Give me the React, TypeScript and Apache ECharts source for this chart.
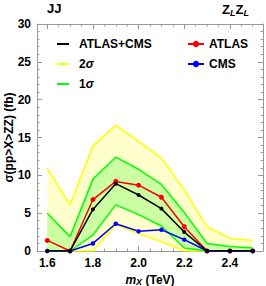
import React, { useEffect, useRef } from "react";
import * as echarts from "echarts";

const massPoints = [1.6, 1.7, 1.8, 1.9, 2.0, 2.1, 2.2, 2.3, 2.4, 2.5];
const combined = [0, 0, 5.5, 8.9, 7.4, 5.6, 2.5, 0, 0, 0];
const atlas = [1.4, 0, 6.8, 9.2, 8.7, 7.1, 3.2, 0, 0, 0];
const cms = [0, 0, 1.0, 3.6, 2.6, 2.8, 1.5, 0, 0, 0];
const sigma2Upper = [10.9, 6.1, 13.9, 16.6, 14.5, 12.3, 8.1, 3.2, 1.7, 1.4];
const sigma2Lower = [0, 0, 0, 3.5, 2.3, 1.2, 0, 0, 0, 0];
const sigma1Upper = [5.0, 1.9, 9.5, 12.4, 10.8, 8.8, 5.1, 1.0, 0.6, 0.4];
const sigma1Lower = [0, 0, 2.1, 6.1, 4.8, 3.3, 0.4, 0, 0, 0];

const FONT = "Liberation Sans, Arial, sans-serif";
const FRAME = "#999999";

const pairs = (ys: number[]) => massPoints.map((x, i) => [x, ys[i]]);

const band = (upper: number[], lower: number[], fill: string, z: number) => ({
  type: "custom",
  silent: true,
  z,
  xAxisIndex: 0,
  yAxisIndex: 0,
  data: [[massPoints[0], 0]],
  renderItem: (_p: any, api: any) => {
    const top = massPoints.map((x, i) => api.coord([x, upper[i]]));
    const bot = massPoints.map((x, i) => api.coord([x, lower[i]])).reverse();
    return {
      type: "polygon",
      shape: { points: top.concat(bot) },
      style: { fill, stroke: "none" },
    };
  },
});

const bandLine = (name: string, ys: number[], color: string) => ({
  type: "line",
  name,
  data: pairs(ys),
  symbol: "none",
  showSymbol: false,
  z: 3,
  lineStyle: { color, width: 1.5 },
  itemStyle: { color },
});

const mainLine = (name: string, ys: number[], color: string, size: number, z: number) => ({
  type: "line",
  name,
  data: pairs(ys),
  symbol: "circle",
  symbolSize: size,
  z,
  lineStyle: { color, width: 1.5 },
  itemStyle: { color },
});

const xCommon = {
  type: "value",
  min: 1.555,
  max: 2.545,
  axisLabel: { show: false },
  splitLine: { show: false },
  axisLine: { show: false },
};

export default function App() {
  const ref = useRef<HTMLDivElement>(null);
  useEffect(() => {
    if (!ref.current) return;
    const chart = echarts.init(ref.current, undefined, { renderer: "svg" });
    const labelStyle = { color: "#000", fontWeight: "bold", fontSize: 12, fontFamily: FONT };
    chart.setOption({
      animation: false,
      backgroundColor: "#fff",
      grid: { left: 37, right: 3, top: 24, bottom: 35, outerBoundsMode: "none" },
      xAxis: [
        {
          ...xCommon,
          position: "bottom",
          splitNumber: 5,
          axisLine: { show: true, lineStyle: { color: FRAME, width: 1 } },
          axisTick: { inside: true, length: 5, lineStyle: { color: FRAME } },
          axisLabel: {
            ...labelStyle,
            margin: 6,
            showMinLabel: false,
            showMaxLabel: false,
            formatter: (v: number) => v.toFixed(1),
          },
          name: "{m|m}{s|X} (TeV)",
          nameLocation: "middle",
          nameGap: 18,
          nameTextStyle: {
            ...labelStyle,
            rich: {
              m: { ...labelStyle, fontStyle: "italic" },
              s: { ...labelStyle, fontStyle: "italic", fontSize: 9, padding: [5, 0, 0, 0] },
            },
          },
        },
        {
          ...xCommon,
          position: "bottom",
          splitNumber: 20,
          axisTick: { inside: true, length: 2.5, lineStyle: { color: FRAME } },
        },
        {
          ...xCommon,
          position: "top",
          splitNumber: 5,
          axisLine: { show: true, lineStyle: { color: FRAME, width: 1 } },
          axisTick: { inside: true, length: 5, lineStyle: { color: FRAME } },
        },
        {
          ...xCommon,
          position: "top",
          splitNumber: 20,
          axisTick: { inside: true, length: 2.5, lineStyle: { color: FRAME } },
        },
      ],
      yAxis: [
        {
          type: "value",
          position: "left",
          min: 0,
          max: 30,
          interval: 5,
          splitLine: { show: false },
          axisLine: { show: true, lineStyle: { color: FRAME, width: 1 } },
          axisTick: { inside: true, length: 5, lineStyle: { color: FRAME } },
          minorTick: { show: true, splitNumber: 5, length: 2.5, lineStyle: { color: FRAME } },
          axisLabel: { ...labelStyle, margin: 6 },
          name: "σ(pp>X>ZZ) (fb)",
          nameLocation: "middle",
          nameGap: 22,
          nameMoveOverlap: false,
          nameTextStyle: labelStyle,
        },
        {
          type: "value",
          position: "right",
          min: 0,
          max: 30,
          interval: 5,
          splitLine: { show: false },
          axisLine: { show: true, lineStyle: { color: FRAME, width: 1 } },
          axisTick: { inside: true, length: 5, lineStyle: { color: FRAME } },
          minorTick: { show: true, splitNumber: 5, length: 2.5, lineStyle: { color: FRAME } },
          axisLabel: { show: false },
        },
      ],
      legend: [
        {
          data: ["ATLAS+CMS", "2σ", "1σ"],
          orient: "vertical",
          left: 57,
          top: 38,
          padding: 0,
          icon: "rect",
          itemWidth: 12,
          itemHeight: 2,
          itemGap: 8,
          selectedMode: false,
          formatter: (n: string) => (n === "ATLAS+CMS" ? n : n[0] + "{i|σ}"),
          textStyle: {
            ...labelStyle,
            padding: [0, 0, 0, 5],
            rich: { i: { ...labelStyle, fontStyle: "italic" } },
          },
        },
        {
          data: ["ATLAS", "CMS"],
          orient: "vertical",
          left: 187,
          top: 38,
          padding: 0,
          itemWidth: 16,
          itemHeight: 8,
          itemGap: 8,
          selectedMode: false,
          textStyle: labelStyle,
        },
      ],
      graphic: [
        {
          type: "text",
          left: 47,
          top: 2,
          style: { text: "JJ", fill: "#000", font: `bold 13px ${FONT}` },
        },
        {
          type: "text",
          left: 222,
          top: 3,
          style: {
            text: "{z|Z}{l|L}{z|Z}{l|L}",
            rich: {
              z: { fill: "#000", fontWeight: "bold", fontSize: 13, fontFamily: FONT },
              l: { fill: "#000", fontWeight: "bold", fontStyle: "italic", fontSize: 9, fontFamily: FONT, padding: [6, 0, 0, 0] },
            },
          },
        },
      ],
      series: [
        band(sigma2Upper, sigma2Lower, "#FFFFCC", 1),
        band(sigma1Upper, sigma1Lower, "#CCFFA3", 2),
        bandLine("2σ", sigma2Upper, "#FFFF00"),
        bandLine("2σ", sigma2Lower, "#FFFF00"),
        bandLine("1σ", sigma1Upper, "#00FF00"),
        bandLine("1σ", sigma1Lower, "#00FF00"),
        mainLine("ATLAS", atlas, "#FF0000", 5, 4),
        mainLine("CMS", cms, "#0000FF", 4.5, 5),
        mainLine("ATLAS+CMS", combined, "#000000", 4, 6),
      ],
    });
    return () => chart.dispose();
  }, []);
  return (
    <div
      ref={ref}
      style={{ position: "absolute", left: 0, top: 0, width: 266, height: 286 }}
    />
  );
}
